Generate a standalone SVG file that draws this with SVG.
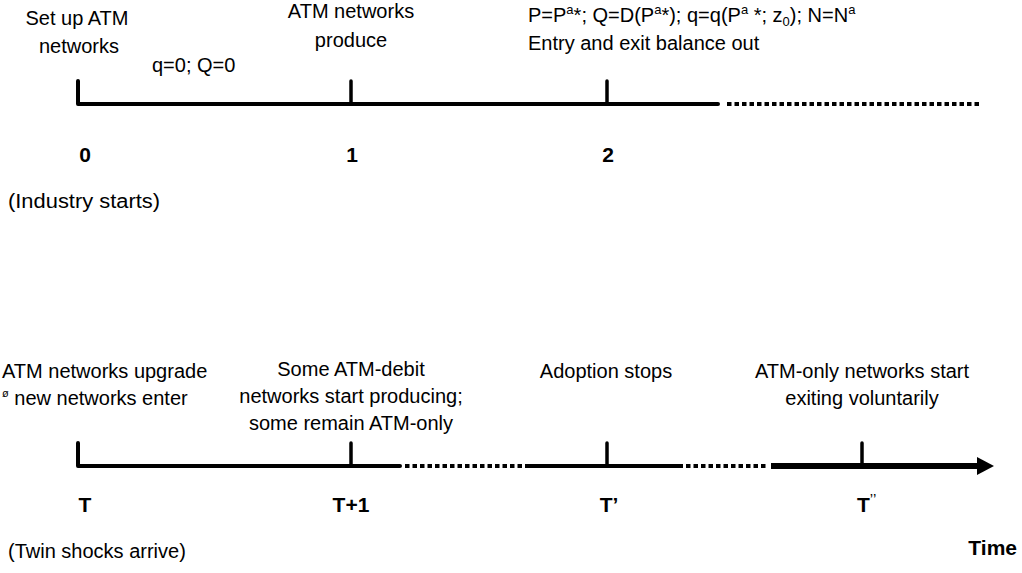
<svg xmlns="http://www.w3.org/2000/svg" width="1022" height="573" viewBox="0 0 1022 573">
  <style>
    text { font-family: "Liberation Sans", Arial, sans-serif; font-size: 20px; fill: #000; }
    .c { text-anchor: middle; }
    .b { font-weight: bold; font-size: 21px; }
    .axis { fill: none; stroke: #000; stroke-width: 4; }
    .tick { fill: none; stroke: #000; stroke-width: 3.5; stroke-linecap: round; }
    .dots { fill: none; stroke: #000; stroke-width: 4; stroke-dasharray: 4.5 3; }
  </style>
  <rect width="1022" height="573" fill="#fff"/>

  <!-- timeline axes -->
  <g id="connectors">
    <!-- entry-phase axis -->
    <path class="axis" d="M78,81 V104 H718" stroke-linecap="round" stroke-linejoin="round"/>
    <path class="tick" d="M351,81 V104"/>
    <path class="tick" d="M607,81 V104"/>
    <line class="dots" x1="727" y1="104" x2="981" y2="104"/>

    <!-- shock-phase axis -->
    <path class="axis" d="M78,443 V466 H400" stroke-linecap="round" stroke-linejoin="round"/>
    <path class="tick" d="M351,443 V466"/>
    <line class="dots" x1="405" y1="466" x2="526" y2="466"/>
    <line class="axis" x1="526" y1="466" x2="683" y2="466"/>
    <path class="tick" d="M607,443 V466"/>
    <line class="dots" x1="686" y1="466" x2="768" y2="466"/>
    <line x1="771" y1="466" x2="980" y2="466" stroke="#000" stroke-width="6"/>
    <path class="tick" d="M862,443 V466" stroke-width="3"/>
    <polygon points="977,457 994,466 977,475" fill="#000"/>
  </g>

  <!-- period 0 -->
  <g id="period-0">
    <text class="c" x="77" y="25">Set up ATM</text>
    <text class="c" x="79" y="53">networks</text>
    <text class="c b" x="85" y="162">0</text>
    <text x="8" y="208" textLength="152" lengthAdjust="spacingAndGlyphs">(Industry starts)</text>
  </g>

  <g id="interval-0-1">
    <text x="152" y="72">q=0; Q=0</text>
  </g>

  <!-- period 1 -->
  <g id="period-1">
    <text class="c" x="351" y="18">ATM networks</text>
    <text class="c" x="351" y="47">produce</text>
    <text class="c b" x="352" y="162">1</text>
  </g>

  <!-- period 2 -->
  <g id="period-2">
    <text x="528" y="22">P=P<tspan font-size="13" dy="-8">a</tspan><tspan dy="8">*; Q=D(P</tspan><tspan font-size="13" dy="-8">a</tspan><tspan dy="8">*); q=q(P</tspan><tspan font-size="13" dy="-8">a</tspan><tspan dy="8"> *; z</tspan><tspan font-size="13" dy="4">0</tspan><tspan dy="-4">); N=N</tspan><tspan font-size="13" dy="-8">a</tspan></text>
    <text x="528" y="50">Entry and exit balance out</text>
    <text class="c b" x="608" y="162">2</text>
  </g>

  <!-- period T -->
  <g id="period-T">
    <text x="2" y="378">ATM networks upgrade</text>
    <text x="2" y="405"><tspan font-size="11" dy="-8">ø</tspan><tspan dy="8"> new networks enter</tspan></text>
    <text class="c b" x="85" y="512">T</text>
    <text x="8" y="558">(Twin shocks arrive)</text>
  </g>

  <!-- period T+1 -->
  <g id="period-T1">
    <text class="c" x="351" y="376">Some ATM-debit</text>
    <text class="c" x="351" y="403">networks start producing;</text>
    <text class="c" x="351" y="430">some remain ATM-only</text>
    <text class="c b" x="351" y="512">T+1</text>
  </g>

  <!-- period T' -->
  <g id="period-Tp">
    <text class="c" x="606" y="378">Adoption stops</text>
    <text class="c b" x="609" y="512">T’</text>
  </g>

  <!-- period T'' -->
  <g id="period-Tpp">
    <text class="c" x="862" y="378">ATM-only networks start</text>
    <text class="c" x="862" y="405">exiting voluntarily</text>
    <text class="b" x="857" y="512">T<tspan font-size="15" font-weight="normal" dy="-8">’’</tspan></text>
  </g>

  <g id="axis-label">
    <text class="b" x="1017" y="555" text-anchor="end">Time</text>
  </g>
</svg>
